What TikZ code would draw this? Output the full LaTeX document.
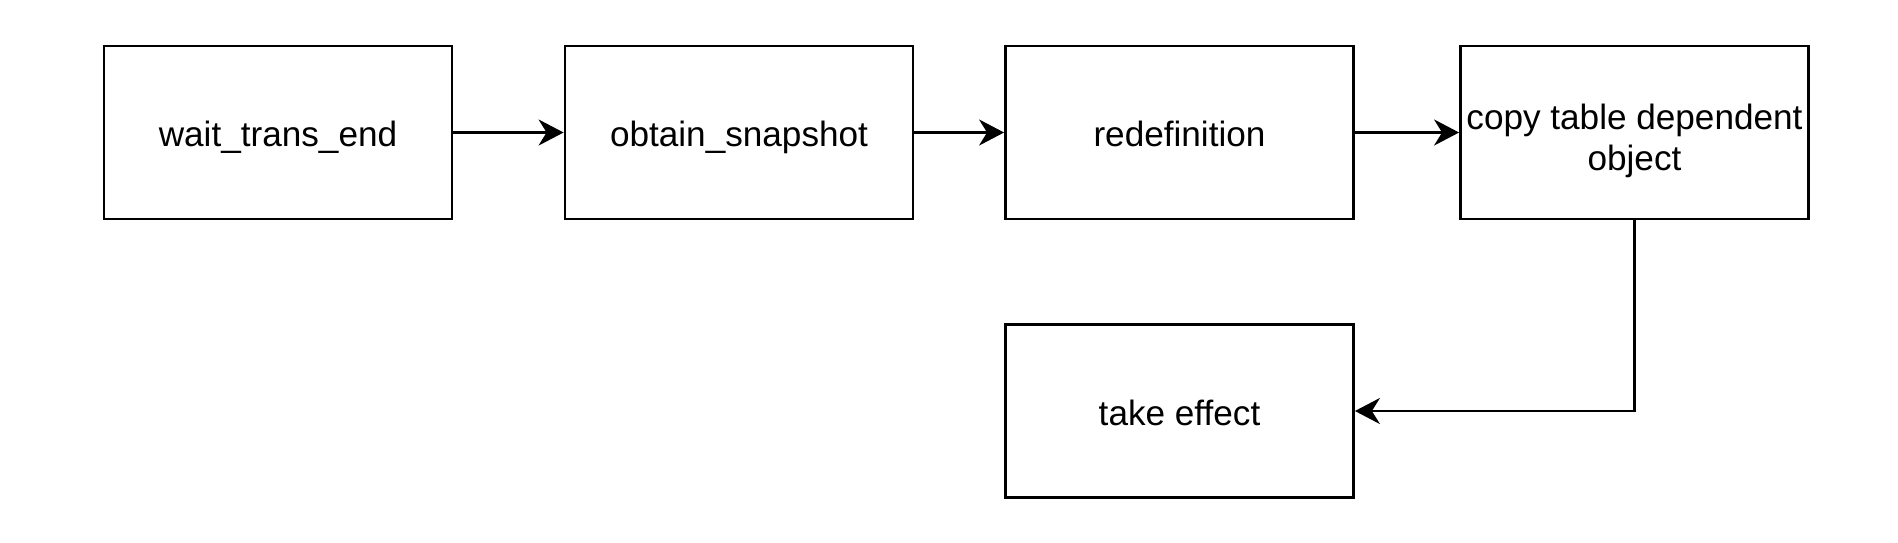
\documentclass[tikz,border=0pt]{standalone}
\usepackage{fontspec}
\setmainfont{Liberation Sans}
\usetikzlibrary{arrows.meta}

\begin{document}
\begin{tikzpicture}[
    box/.style={rectangle, draw, line width=0.8pt, align=center,
                font=\fontsize{10}{11.5}\selectfont, inner sep=0pt,
                minimum width=3.48cm, minimum height=1.73cm,
                execute at begin node={\vrule height 3.6mm depth 0.8mm width 0pt}},
    arrow/.style={-{Stealth[length=2.5mm, width=2.6mm, inset=0.8mm]}, line width=0.8pt}]
  \useasboundingbox (0,0) rectangle (18.98,-5.42);
  \node[box] (wait) at (2.78,-1.325) {wait\_trans\_end};
  \node[box] (snap) at (7.39,-1.325) {obtain\_snapshot};
  \node[box] (redef) at (11.795,-1.325) {redefinition};
  \node[box] (copy) at (16.345,-1.325)
    {\vrule height 4.3mm width 0pt copy table dependent\\object};
  \node[box] (effect) at (11.795,-4.11) {take effect};
  \draw[arrow] (wait) -- (snap);
  \draw[arrow] (snap) -- (redef);
  \draw[arrow] (redef) -- (copy);
  \draw[arrow] (copy.south) |- (effect.east);
\end{tikzpicture}
\end{document}
